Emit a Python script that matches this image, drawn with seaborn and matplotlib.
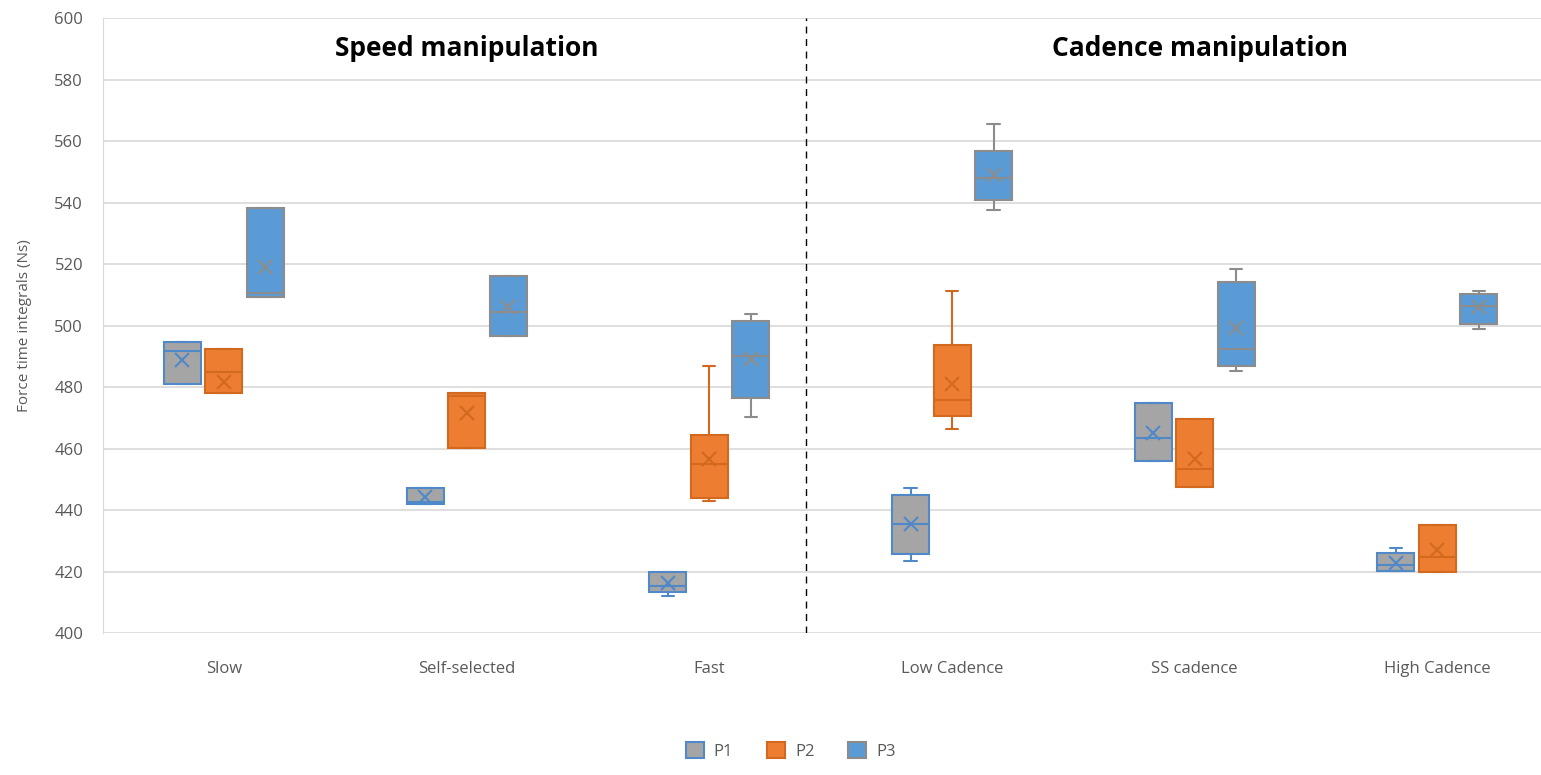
import numpy as np
import pandas as pd
import matplotlib.pyplot as plt
import seaborn as sns
from matplotlib.patches import Patch

# Conditions and participants
conditions = ["Slow", "Self-selected", "Fast", "Low Cadence", "SS cadence", "High Cadence"]
participants = ["P1", "P2", "P3"]

# Box summaries: whisker low, Q1, median, Q3, whisker high, mean
p1_low = [481.0, 442.0, 411.9, 423.4, 455.9, 420.3]
p1_q1 = [481.0, 442.0, 413.4, 425.8, 455.9, 420.3]
p1_med = [491.6, 442.5, 415.4, 435.4, 463.3, 422.2]
p1_q3 = [494.5, 447.3, 419.7, 444.9, 474.8, 426.1]
p1_high = [494.5, 447.3, 420.0, 447.3, 474.8, 427.8]
p1_mean = [488.9, 444.3, 416.3, 435.4, 464.9, 422.7]

p2_low = [478.2, 460.1, 442.9, 466.2, 447.6, 419.8]
p2_q1 = [478.2, 460.1, 444.0, 470.7, 447.6, 419.8]
p2_med = [484.9, 477.0, 455.1, 475.8, 453.2, 424.8]
p2_q3 = [492.5, 477.9, 464.3, 493.7, 469.5, 435.2]
p2_high = [492.5, 477.9, 486.7, 511.2, 469.5, 435.2]
p2_mean = [481.8, 471.7, 456.7, 481.0, 456.5, 427.0]

p3_low = [509.4, 496.5, 470.3, 537.6, 485.1, 499.0]
p3_q1 = [509.4, 496.5, 476.3, 540.8, 486.9, 500.6]
p3_med = [510.7, 504.3, 490.1, 548.0, 492.3, 506.5]
p3_q3 = [538.3, 516.2, 501.6, 556.9, 514.3, 510.2]
p3_high = [538.3, 516.2, 503.6, 565.6, 518.4, 511.1]
p3_mean = [519.1, 506.0, 489.0, 548.8, 499.1, 505.9]

summaries = {
    "P1": [p1_low, p1_q1, p1_med, p1_q3, p1_high],
    "P2": [p2_low, p2_q1, p2_med, p2_q3, p2_high],
    "P3": [p3_low, p3_q1, p3_med, p3_q3, p3_high],
}
means = {"P1": p1_mean, "P2": p2_mean, "P3": p3_mean}

# Five points per box -> quartiles land exactly on the read values
rows = []
for p in participants:
    for i, c in enumerate(conditions):
        for stat in summaries[p]:
            rows.append({"condition": c, "participant": p, "value": stat[i]})
box_data = pd.DataFrame(rows)

mean_data = pd.DataFrame([
    {"condition": c, "participant": p, "value": means[p][i]}
    for p in participants for i, c in enumerate(conditions)
])

fill_colors = {"P1": "#A5A5A5", "P2": "#ED7D31", "P3": "#5B9BD5"}
edge_colors = {"P1": "#4F89C8", "P2": "#D2691E", "P3": "#8C8C8C"}
text_color = "#595959"

sns.set_style("white")
plt.rcParams["font.family"] = ["Open Sans", "DejaVu Sans"]

fig = plt.figure(figsize=(15.41, 7.75), dpi=100)
ax = fig.add_axes([0.0666, 0.1832, 0.9334, 0.7935])

for p in participants:
    sns.boxplot(data=box_data[box_data.participant == p], x="condition", y="value",
                hue="participant", order=conditions, hue_order=participants,
                palette=fill_colors, linecolor=edge_colors[p], saturation=1,
                dodge=True, width=0.513, gap=0.108, whis=(0, 100), linewidth=1.5,
                capwidths=0.05, legend=False, ax=ax)

sns.pointplot(data=mean_data, x="condition", y="value", hue="participant",
              order=conditions, hue_order=participants, palette=edge_colors,
              dodge=0.342, linestyles="none", markers="x", errorbar=None,
              markersize=10, markeredgewidth=1.5, legend=False, ax=ax)

ax.set_ylim(400, 600)
ax.set_xlim(-0.5, 5.427)
ax.set_yticks(np.arange(400, 601, 20))
ax.yaxis.grid(True, color="#D9D9D9", linewidth=1.2)
ax.set_axisbelow(True)
for s in ["top", "right", "bottom"]:
    ax.spines[s].set_visible(False)
ax.spines["left"].set_color("#D9D9D9")
ax.tick_params(axis="both", length=0, labelsize=12, colors=text_color)
ax.tick_params(axis="x", pad=20)
ax.tick_params(axis="y", pad=14)
ax.set_xlabel("")
ax.set_ylabel("Force time integrals (Ns)", fontsize=11, color=text_color, labelpad=16)

ax.axvline(2.4, color="black", linestyle=(0, (5, 4)), linewidth=1)
ax.text(1.0, 590, "Speed manipulation", ha="center", va="center",
        fontsize=19, fontweight="bold", color="black")
ax.text(4.02, 590, "Cadence manipulation", ha="center", va="center",
        fontsize=19, fontweight="bold", color="black")

handles = [Patch(facecolor=fill_colors[p], edgecolor=edge_colors[p], linewidth=1.5, label=p)
           for p in participants]
leg = fig.legend(handles=handles, loc="lower center", bbox_to_anchor=(0.513, 0.0),
                 ncol=3, frameon=False, fontsize=12, handlelength=1.1, handleheight=1.1,
                 columnspacing=2.0, handletextpad=0.6)
for t in leg.get_texts():
    t.set_color(text_color)

fig.savefig("out.png", dpi=100)
